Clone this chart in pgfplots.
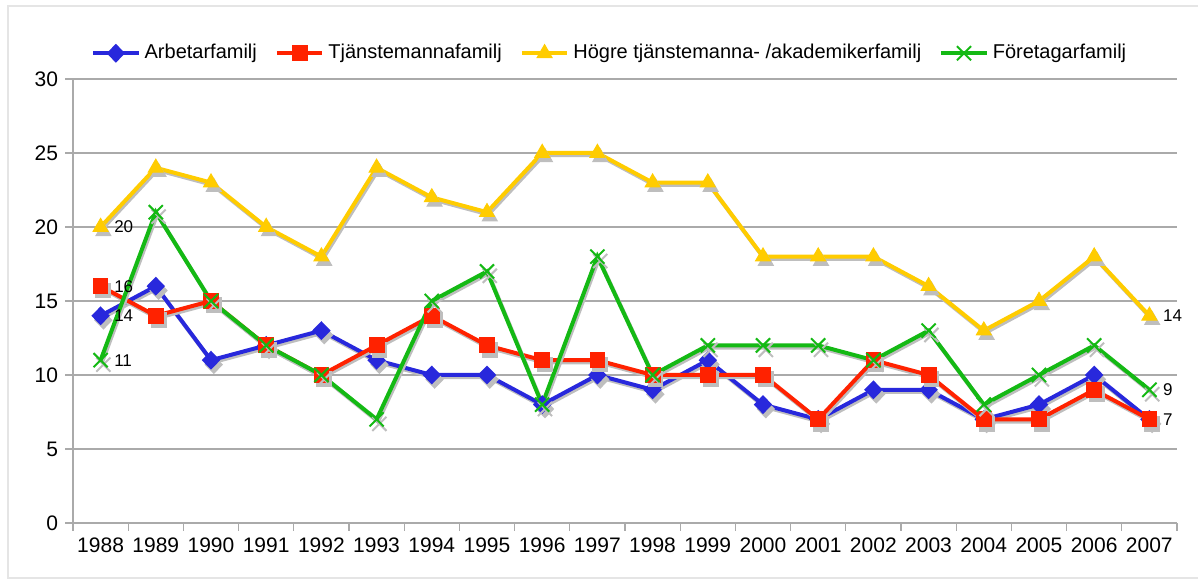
\documentclass[border=0pt]{standalone}
\usepackage{fontspec}
\setmainfont{Liberation Sans}
\usepackage{pgfplots}
\usepackage{pgfplotstable}
\pgfplotsset{compat=1.18}
\definecolor{cblue}{RGB}{40,40,220}
\definecolor{cred}{RGB}{255,34,0}
\definecolor{cyel}{RGB}{255,204,0}
\definecolor{cgreen}{RGB}{20,185,20}
\definecolor{cshadow}{RGB}{190,190,190}
\definecolor{cgrid}{RGB}{170,170,170}

\pgfplotstableread{
year arb tj hog for
1988 14 16 20 11
1989 16 14 24 21
1990 11 15 23 15
1991 12 12 20 12
1992 13 10 18 10
1993 11 12 24 7
1994 10 14 22 15
1995 10 12 21 17
1996 8 11 25 8
1997 10 11 25 18
1998 9 10 23 10
1999 11 10 23 12
2000 8 10 18 12
2001 7 7 18 12
2002 9 11 18 11
2003 9 10 16 13
2004 7 7 13 8
2005 8 7 15 10
2006 10 9 18 12
2007 7 7 14 9
}\data

\begin{document}
\begin{tikzpicture}
\useasboundingbox (-36.5pt,-30pt) rectangle (562.5pt,261.5pt);
\draw[gray!20, line width=0.6pt] (562.5pt,258.5pt) -- (-32.5pt,258.5pt) -- (-32.5pt,-27.5pt) -- (562.5pt,-27.5pt);
\begin{axis}[
  at={(0,0)}, anchor=south west,
  scale only axis, width=552pt, height=222pt,
  xmin=1987.5, xmax=2007.5, ymin=0, ymax=30,
  xtick={1988,...,2007},
  minor xtick={1987.5,1988.5,...,2007.5},
  major x tick style={draw=none},
  ytick={0,5,...,30},
  ymajorgrids, grid style={cgrid, line width=0.8pt},
  axis x line*=bottom, axis y line*=left,
  axis line style={cgrid, line width=0.6pt, -},
  tick align=outside, tick style={cgrid, line width=0.6pt},
  major tick length=4pt, minor tick length=4pt,
  /pgf/number format/assume math mode=true,
  /pgf/number format/1000 sep={},
  tick label style={font=\fontsize{10.5}{12}\selectfont, black},
  legend style={at={(0.487,1.058)}, anchor=center, draw=none, fill=none,
    legend columns=4, font=\fontsize{10}{12}\selectfont,
    /tikz/every even column/.append style={column sep=7pt}},
  legend image code/.code={\draw[mark repeat=2,mark phase=2] plot coordinates {(0cm,0cm) (0.4cm,0cm) (0.8cm,0cm)};},
  every node near coord/.style={anchor=west, xshift=3.3pt, font=\fontsize{8.5}{9}\selectfont, black},
]
% Arbetarfamilj
\addplot[cshadow, line width=2pt, mark=diamond*, mark size=3.3pt, mark options={xscale=1.3, solid}, forget plot, transform canvas={xshift=0.7pt,yshift=-1.1pt}] table[x=year,y=arb]{\data};
\addplot[cblue, line width=2pt, mark=diamond*, mark size=3.3pt, mark options={xscale=1.3, solid}] table[x=year,y=arb]{\data};
\addlegendentry{Arbetarfamilj}
% Tjanstemannafamilj
\addplot[cshadow, line width=2pt, mark=square*, mark size=3.7pt, mark options={solid, line width=0.5pt}, forget plot, transform canvas={xshift=0.7pt,yshift=-1.1pt}] table[x=year,y=tj]{\data};
\addplot[cred, line width=2pt, mark=square*, mark size=3.7pt, mark options={solid, line width=0.5pt}] table[x=year,y=tj]{\data};
\addlegendentry{Tjänstemannafamilj}
% Hogre
\addplot[cshadow, line width=2pt, mark=triangle*, mark size=4.3pt, mark options={solid, line width=0.5pt}, forget plot, transform canvas={xshift=0.7pt,yshift=-1.1pt}] table[x=year,y=hog]{\data};
\addplot[cyel, line width=2pt, mark=triangle*, mark size=4.3pt, mark options={solid, line width=0.5pt}] table[x=year,y=hog]{\data};
\addlegendentry{Högre tjänstemanna- /akademikerfamilj}
% Foretagar
\addplot[cshadow, line width=2pt, mark=x, mark size=5pt, mark options={solid, line width=1pt}, forget plot, transform canvas={xshift=0.7pt,yshift=-1.1pt}] table[x=year,y=for]{\data};
\addplot[cgreen, line width=2pt, mark=x, mark size=5pt, mark options={solid, line width=1pt}] table[x=year,y=for]{\data};
\addlegendentry{Företagarfamilj}
% data labels
\addplot[draw=none, mark=none, forget plot, nodes near coords, point meta=explicit symbolic]
  coordinates {(1988,20)[20] (1988,16)[16] (1988,14)[14] (1988,11)[11] (2007,14)[14] (2007,9)[9] (2007,7)[7]};
\end{axis}
\end{tikzpicture}
\end{document}
